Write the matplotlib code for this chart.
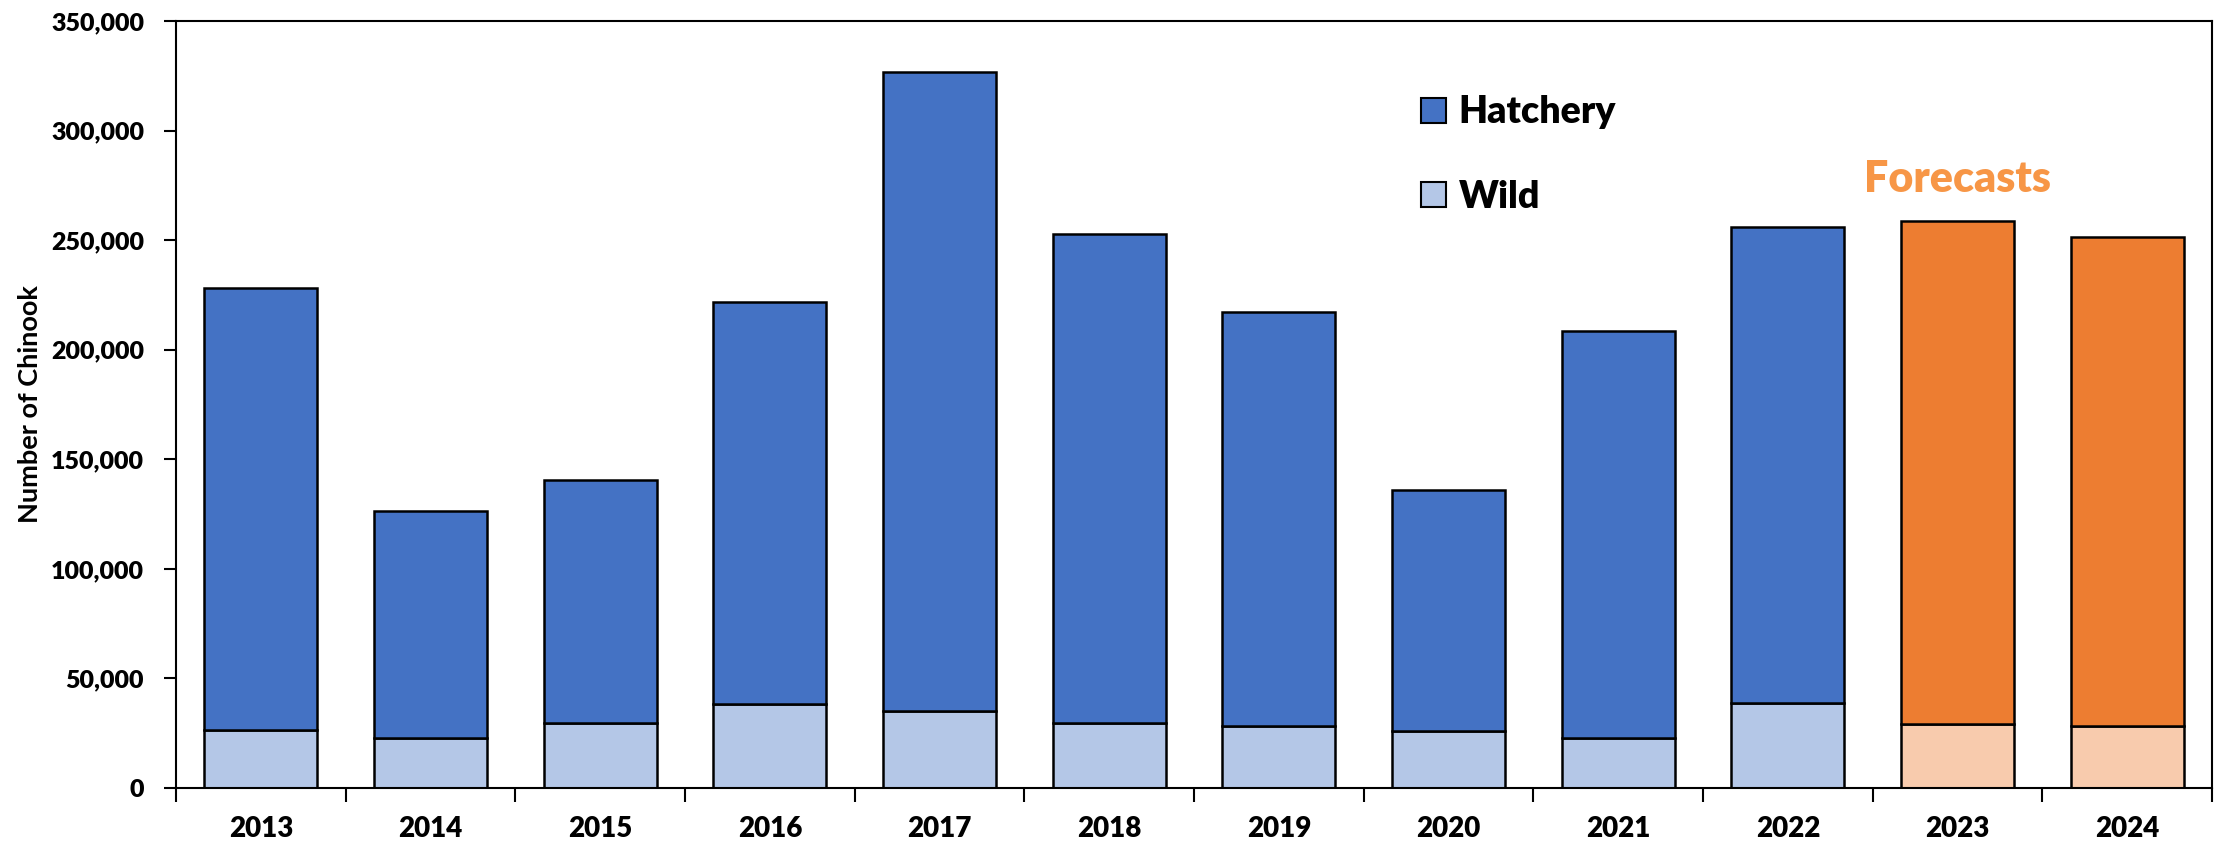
# -*- coding: utf-8 -*-
import numpy as np
import matplotlib
matplotlib.use('Agg')
import matplotlib.pyplot as plt
from matplotlib.patches import Patch
from matplotlib.ticker import FuncFormatter

years = ['2013', '2014', '2015', '2016', '2017', '2018',
         '2019', '2020', '2021', '2022', '2023', '2024']
total = [228100, 126400, 140600, 221600, 326500, 252700,
         217100, 136100, 208700, 256000, 258600, 251400]
wild = [26600, 22700, 29800, 38200, 35000, 29800,
        28500, 25900, 22700, 38900, 29200, 28500]
forecast = [False]*10 + [True]*2

hatchery = [t - w for t, w in zip(total, wild)]

c_hat = '#4472C4'
c_wild = '#B4C7E7'
c_fhat = '#ED7D31'
c_fwild = '#F8CBAD'

plt.rcParams['font.family'] = ['Lato', 'DejaVu Sans']

fig = plt.figure(figsize=(22.26, 8.43), dpi=100)
ax = fig.add_axes([176/2226, 55/843, 2036/2226, 767/843])

x = np.arange(len(years))
wcol = [c_fwild if f else c_wild for f in forecast]
hcol = [c_fhat if f else c_hat for f in forecast]
ax.bar(x, wild, width=0.665, color=wcol, edgecolor='black', lw=1.8, zorder=2)
ax.bar(x, hatchery, bottom=wild, width=0.665, color=hcol,
       edgecolor='black', lw=1.8, zorder=2)

ax.set_xlim(-0.5, len(years) - 0.5)
ax.set_ylim(0, 350000)
ax.set_yticks(np.arange(0, 350001, 50000))
ax.yaxis.set_major_formatter(FuncFormatter(lambda v, p: '{:,.0f}'.format(v)))
ax.tick_params(axis='y', direction='out', length=9, width=1.5, pad=14,
               labelsize=18)
for lab in ax.get_yticklabels():
    lab.set_weight('heavy')

ax.set_xticks(x)
ax.set_xticklabels(years, weight='heavy', fontsize=20)
ax.tick_params(axis='x', which='major', length=0, pad=20)
ax.set_xticks(np.arange(-0.5, len(years), 1.0), minor=True)
ax.tick_params(axis='x', which='minor', direction='out', length=10, width=1.5)

for sp in ax.spines.values():
    sp.set_linewidth(1.5)

ax.set_ylabel('Number of Chinook', weight='bold', fontsize=19.5)
ax.yaxis.set_label_coords(-0.066, 0.5)

handles = [Patch(facecolor=c_hat, edgecolor='black', lw=1.5),
           Patch(facecolor=c_wild, edgecolor='black', lw=1.5)]
leg = ax.legend(handles, ['Hatchery', 'Wild'], loc='upper left',
                bbox_to_anchor=(0.595, 0.947), frameon=False,
                handlelength=0.65, handleheight=0.65, handletextpad=0.35,
                labelspacing=1.35, prop={'weight': 'heavy', 'size': 27})

ax.text(10.0, 272000, 'Forecasts', color='#F79646',
        weight='heavy', fontsize=31, ha='center', va='baseline')

fig.savefig('out.png', dpi=100)
